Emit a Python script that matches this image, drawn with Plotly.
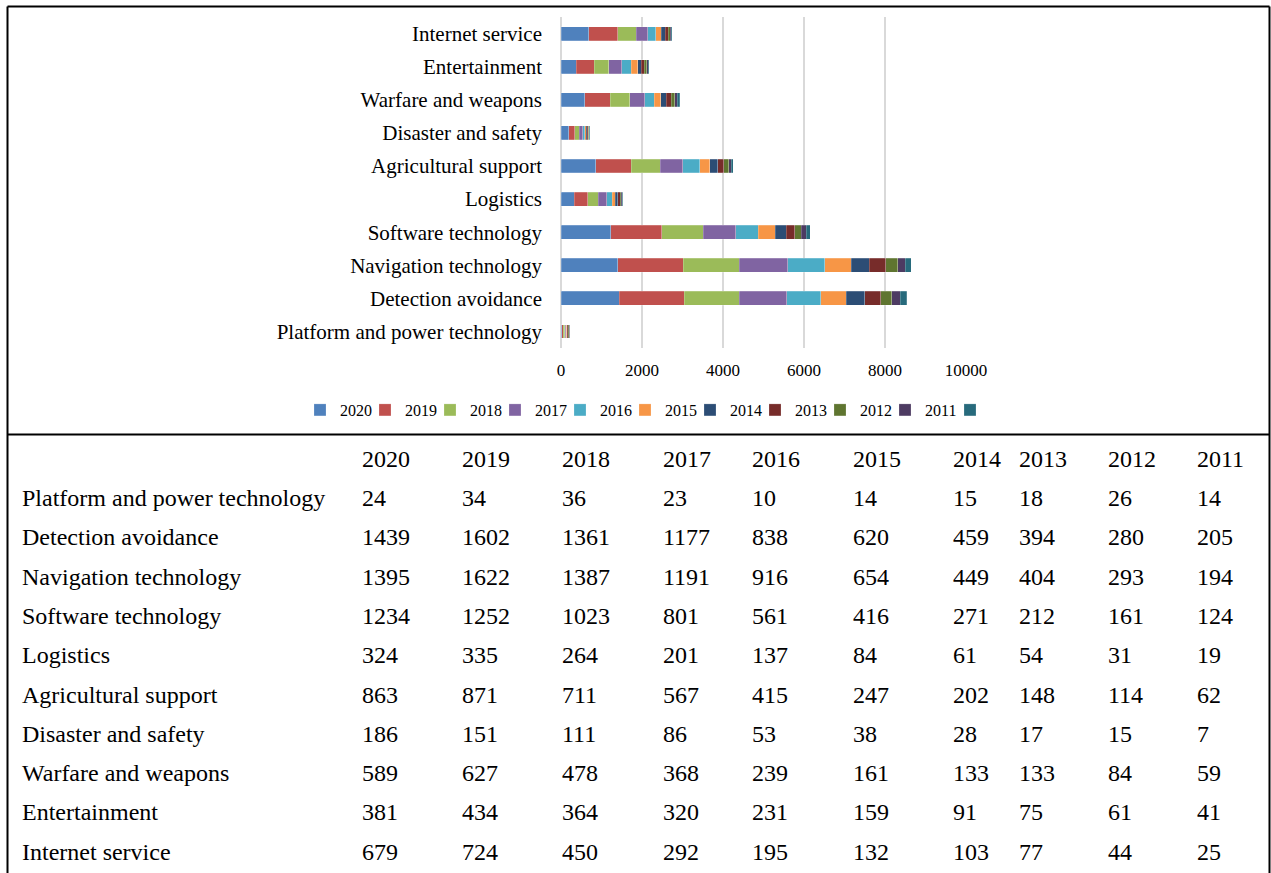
import plotly.graph_objects as go

W, H = 1271, 873

categories = [
    "Platform and power technology",
    "Detection avoidance",
    "Navigation technology",
    "Software technology",
    "Logistics",
    "Agricultural support",
    "Disaster and safety",
    "Warfare and weapons",
    "Entertainment",
    "Internet service",
]

years = ["2020", "2019", "2018", "2017", "2016", "2015", "2014", "2013", "2012", "2011"]

v2020 = [24, 1439, 1395, 1234, 324, 863, 186, 589, 381, 679]
v2019 = [34, 1602, 1622, 1252, 335, 871, 151, 627, 434, 724]
v2018 = [36, 1361, 1387, 1023, 264, 711, 111, 478, 364, 450]
v2017 = [23, 1177, 1191, 801, 201, 567, 86, 368, 320, 292]
v2016 = [10, 838, 916, 561, 137, 415, 53, 239, 231, 195]
v2015 = [14, 620, 654, 416, 84, 247, 38, 161, 159, 132]
v2014 = [15, 459, 449, 271, 61, 202, 28, 133, 91, 103]
v2013 = [18, 394, 404, 212, 54, 148, 17, 133, 75, 77]
v2012 = [26, 280, 293, 161, 31, 114, 15, 84, 61, 44]
v2011 = [14, 205, 194, 124, 19, 62, 7, 59, 41, 25]
# last stacked segment, drawn without a legend label
v2010 = [10, 160, 145, 100, 20, 50, 12, 60, 20, 30]

series = [v2020, v2019, v2018, v2017, v2016, v2015, v2014, v2013, v2012, v2011, v2010]
series_names = years + [" "]
colors = ["#4F81BD", "#C0504D", "#9BBB59", "#8064A2", "#4BACC6", "#F79646",
          "#2C4D75", "#772C2A", "#5F7530", "#4D3B62", "#276A7C"]

FONT = "Liberation Serif, Times New Roman, serif"


def px(x):
    return x / W


def py(y):
    return 1 - y / H


fig = go.Figure()

for name, vals, col in zip(series_names, series, colors):
    fig.add_trace(go.Bar(
        y=categories, x=vals, name=name, orientation="h",
        marker=dict(color=col, line=dict(color="rgba(255,255,255,0.35)", width=0.6)),
        xaxis="x", yaxis="y",
    ))

# data table underneath the chart
table_cols = [categories, v2020, v2019, v2018, v2017, v2016, v2015, v2014, v2013, v2012, v2011]
fig.add_trace(go.Table(
    domain=dict(x=[px(14), px(1262)], y=[0, py(441)]),
    columnwidth=[340, 100, 100, 101, 89, 101, 100, 66, 89, 89, 73],
    header=dict(
        values=[""] + years,
        align="left", height=39,
        fill=dict(color="white"),
        line=dict(color="rgba(0,0,0,0)", width=0),
        font=dict(family=FONT, size=24, color="black"),
    ),
    cells=dict(
        values=table_cols,
        align="left", height=39.3,
        fill=dict(color="white"),
        line=dict(color="rgba(0,0,0,0)", width=0),
        font=dict(family=FONT, size=24, color="black"),
    ),
))

frame = dict(color="black", width=2)
shapes = [
    dict(type="line", xref="paper", yref="paper", x0=px(7.5), x1=px(1269.5), y0=py(6.5), y1=py(6.5), line=frame),
    dict(type="line", xref="paper", yref="paper", x0=px(7.5), x1=px(7.5), y0=py(6.5), y1=0, line=frame),
    dict(type="line", xref="paper", yref="paper", x0=px(1269.5), x1=px(1269.5), y0=py(6.5), y1=0, line=frame),
    dict(type="line", xref="paper", yref="paper", x0=px(7.5), x1=px(1269.5), y0=py(434.5), y1=py(434.5), line=frame),
]

fig.update_layout(
    width=W, height=H,
    margin=dict(l=0, r=0, t=0, b=0, autoexpand=False),
    paper_bgcolor="white",
    plot_bgcolor="white",
    barmode="stack",
    bargap=0.58,
    font=dict(family=FONT, color="black"),
    xaxis=dict(
        domain=[px(561), px(966)],
        range=[0, 10000], tickvals=[0, 2000, 4000, 6000, 8000, 10000],
        tickformat="d",
        showgrid=True, gridcolor="#d9d9d9", gridwidth=2,
        zeroline=True, zerolinecolor="#d9d9d9", zerolinewidth=2,
        showline=False, ticks="",
        tickfont=dict(family=FONT, size=17, color="black"),
        ticklabelstandoff=10,
        automargin=False,
        anchor="y",
    ),
    yaxis=dict(
        domain=[py(348), py(17)],
        showgrid=False, showline=False, ticks="",
        tickfont=dict(family=FONT, size=21, color="black"),
        ticklabelstandoff=18,
        automargin=False,
        anchor="x",
    ),
    legend=dict(
        orientation="h",
        x=px(300), xanchor="left",
        y=py(393), yanchor="top",
        font=dict(family=FONT, size=16, color="black"),
        entrywidth=20, entrywidthmode="pixels",
        traceorder="normal",
        bgcolor="rgba(0,0,0,0)",
    ),
    shapes=shapes,
)

fig.write_html("out.html")
